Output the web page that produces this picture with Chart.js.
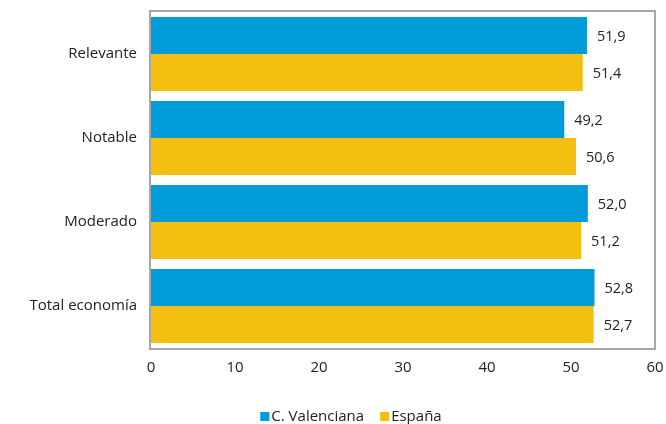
<!DOCTYPE html>
<html>
<head>
<meta charset="utf-8">
<script src="https://cdn.jsdelivr.net/npm/chart.js@4/dist/chart.umd.min.js"></script>
<style>
  html, body { margin: 0; padding: 0; background: #fff; }
  #wrap { width: 666px; height: 424px; }
</style>
</head>
<body>
<div id="wrap"><canvas id="chart" width="666" height="424"></canvas></div>
<script>
const categories = ["Relevante", "Notable", "Moderado", "Total economía"]
const valenciaValues = [51.9, 49.2, 52.0, 52.8]
const espanaValues = [51.4, 50.6, 51.2, 52.7]
const xTicks = [0, 10, 20, 30, 40, 50, 60]

const blue = '#009bd9'
const yellow = '#f3c012'
const textColor = '#222'
const fontFamily = "'Open Sans', 'Noto Sans', sans-serif"

// valores a la derecha de cada barra, con coma decimal
const valueLabels = {
  id: 'valueLabels',
  afterDatasetsDraw(chart) {
    const ctx = chart.ctx
    ctx.save()
    ctx.font = `14.5px ${fontFamily}`
    ctx.fillStyle = textColor
    ctx.textBaseline = 'middle'
    ctx.textAlign = 'left'
    chart.data.datasets.forEach((ds, i) => {
      chart.getDatasetMeta(i).data.forEach((bar, j) => {
        const txt = ds.data[j].toFixed(1).replace('.', ',')
        ctx.fillText(txt, bar.x + 10, bar.y + 1)
      })
    })
    ctx.restore()
  }
}

// marco gris del área de trazado
const plotFrame = {
  id: 'plotFrame',
  afterDatasetsDraw(chart) {
    const { ctx, chartArea: a } = chart
    ctx.save()
    ctx.strokeStyle = '#a6a6a6'
    ctx.lineWidth = 2
    ctx.strokeRect(a.left - 1, a.top - 1, a.right - a.left + 1, a.bottom - a.top + 2)
    ctx.restore()
  }
}

// leyenda propia: cuadrado pegado al texto, como en el original
const bottomLegend = {
  id: 'bottomLegend',
  afterDraw(chart) {
    const ctx = chart.ctx
    const box = 9, gap = 2, itemGap = 16
    ctx.save()
    ctx.font = `15px ${fontFamily}`
    ctx.textBaseline = 'middle'
    ctx.textAlign = 'left'
    const items = chart.data.datasets.map(ds => ({
      label: ds.label, color: ds.backgroundColor, w: ctx.measureText(ds.label).width
    }))
    const total = items.reduce((s, it) => s + box + gap + it.w, 0) + itemGap * (items.length - 1)
    let x = 351 - total / 2
    const y = 416
    items.forEach(it => {
      ctx.fillStyle = it.color
      ctx.fillRect(x, y - 4, box, 9)
      ctx.fillStyle = textColor
      ctx.fillText(it.label, x + box + gap, y + 1)
      x += box + gap + it.w + itemGap
    })
    ctx.restore()
  }
}

function draw() {
  new Chart(document.getElementById('chart'), {
    type: 'bar',
    data: {
      labels: categories,
      datasets: [
        {
          label: 'C. Valenciana',
          data: valenciaValues,
          backgroundColor: blue,
          categoryPercentage: 0.88,
          barPercentage: 1.0
        },
        {
          label: 'España',
          data: espanaValues,
          backgroundColor: yellow,
          categoryPercentage: 0.88,
          barPercentage: 1.0
        }
      ]
    },
    options: {
      indexAxis: 'y',
      responsive: false,
      animation: false,
      layout: { padding: { top: 12, right: 11, left: 0, bottom: 0 } },
      scales: {
        x: {
          min: 0,
          max: 60,
          afterBuildTicks: scale => { scale.ticks = xTicks.map(v => ({ value: v })) },
          afterFit: scale => {
            scale.height = 76
            scale.paddingLeft = 0
            scale.paddingRight = 0
          },
          grid: { display: false, drawTicks: false },
          border: { display: false },
          ticks: { padding: 11, color: textColor, font: { family: fontFamily, size: 15 } }
        },
        y: {
          afterFit: scale => {
            scale.width = 151
            scale.paddingTop = 0
            scale.paddingBottom = 0
          },
          grid: { display: false, drawTicks: false },
          border: { display: false },
          ticks: { padding: 14, color: textColor, font: { family: fontFamily, size: 15 } }
        }
      },
      plugins: {
        legend: { display: false },
        tooltip: { enabled: false }
      }
    },
    plugins: [valueLabels, plotFrame, bottomLegend]
  })
}

document.fonts.load(`15px 'Open Sans'`).then(draw, draw)
</script>
</body>
</html>
